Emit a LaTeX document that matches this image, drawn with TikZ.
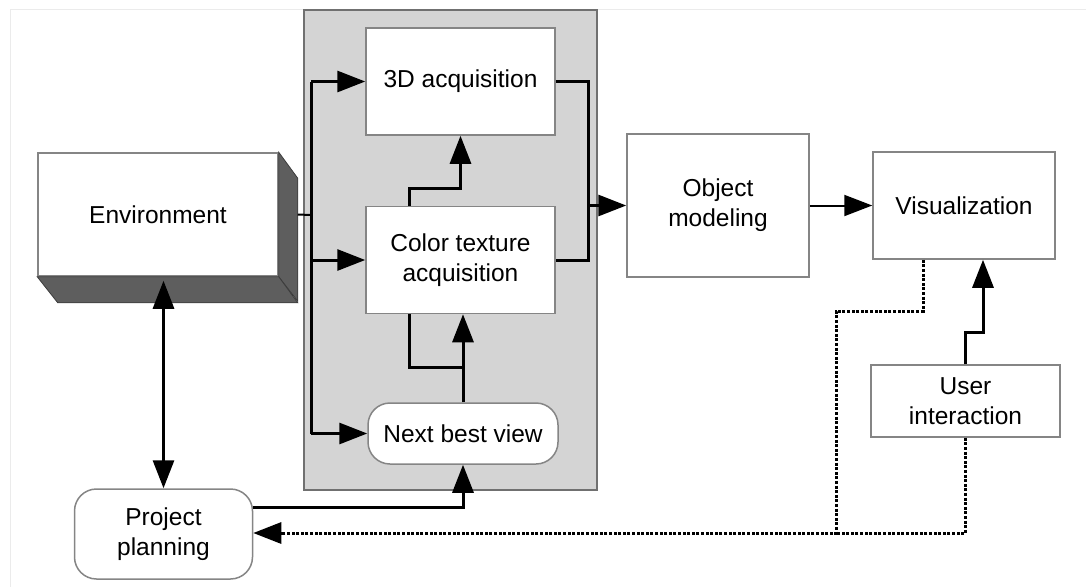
\documentclass[tikz,border=0pt]{standalone}
\usepackage{fontspec}
\setmainfont{Liberation Sans}
\usetikzlibrary{arrows.meta,calc}

\definecolor{groupfill}{HTML}{D4D4D4}
\definecolor{groupline}{HTML}{707070}
\definecolor{boxline}{HTML}{858585}
\definecolor{sidefill}{HTML}{5E5E5E}
\definecolor{sideline}{HTML}{3C3C3C}
\definecolor{frameline}{HTML}{EBEBEB}

\tikzset{
  box/.style={draw=boxline, line width=1.5pt, fill=white, inner sep=0pt,
    align=center, font=\fontsize{24.5}{30}\selectfont},
  roundbox/.style={box, rounded corners=22pt},
  ln/.style={line width=3pt, line join=miter},
  thinln/.style={line width=2pt},
  tip/.tip={Triangle[length=28pt,width=21pt]},
  arr/.style={ln, -tip},
  thinarr/.style={thinln, -tip},
  dblarr/.style={ln, tip-tip},
  dotln/.style={line width=3pt, dash pattern=on 3pt off 1.6pt},
  dotarr/.style={dotln, -tip},
}

\begin{document}
\begin{tikzpicture}[x=1pt,y=-1pt]
  \useasboundingbox (0,0) rectangle (1086,587);

  % faint page frame
  \draw[frameline, line width=1pt] (10.5,587) -- (10.5,9) -- (1086,9);

  % acquisition group
  \node[draw=groupline, line width=2pt, fill=groupfill,
        minimum width=293pt, minimum height=480pt, inner sep=0pt]
        (grp) at (450.5,250) {};

  % blocks
  \node[box, minimum width=189pt, minimum height=107pt] (a3d) at (460.5,81.5) {3D acquisition};
  \node[box, minimum width=189pt, minimum height=107pt] (ct) at (460.5,260) {Color texture\\acquisition};
  \node[roundbox, minimum width=190pt, minimum height=61pt] (nbv) at (463,433.5) {Next best view};
  \node[box, minimum width=182pt, minimum height=143pt] (om) at (718,205.5) {Object\\modeling};
  \node[box, minimum width=182pt, minimum height=107pt] (vis) at (964,205.5) {Visualization};
  \node[box, minimum width=189pt, minimum height=72pt] (ui) at (965.5,401) {User\\interaction};
  \node[roundbox, minimum width=178pt, minimum height=90pt] (pp) at (163.5,534) {Project\\planning};

  % environment block with its extruded sides
  \node[box, minimum width=240pt, minimum height=123pt]
        (env) at (158,214.5) {Environment};
  \fill[sidefill, draw=sideline, line width=0.8pt]
        (env.north east) -- ++(19,26) -- ++(0,123) -- (env.south east) -- cycle;
  \fill[sidefill, draw=sideline, line width=0.8pt]
        (env.south west) -- (env.south east) -- ++(19,26) -- ++(-240,0) -- cycle;

  % input bus feeding the acquisition steps
  \coordinate (bus) at (311,215);
  \draw[thinln] ($(env.east)+(19,0)$) -- (bus);
  \draw[ln] (bus |- a3d.west) -- (bus |- nbv.west);
  \draw[arr] (bus |- a3d.west) -- (a3d.west);
  \draw[arr] (bus |- ct.west) -- (ct.west);
  \draw[arr] (bus |- nbv.west) -- (nbv.west);

  % links inside the group
  \draw[arr] ([xshift=-51.5pt]ct.north) |- ($(a3d.south)+(0,53)$) -- (a3d.south);
  \draw[arr] (nbv.north) -- (nbv.north |- ct.south);
  \draw[ln] ([xshift=-51.5pt]ct.south) |- ($(nbv.north)+(0,-35)$);

  % output bus to modeling
  \coordinate (obus) at (588,205.5);
  \draw[ln] (a3d.east) -| (obus |- ct.east) -- (ct.east);
  \draw[arr] (obus) -- (om.west);
  \draw[thinarr] (om.east) -- (vis.west);

  % user interaction to visualization
  \coordinate (uik) at (983,332);
  \draw[arr] (ui.north) |- (uik) -- (uik |- vis.south);

  % environment and planning
  \coordinate (envb) at ($(env.south)+(5.5,4)$);
  \draw[dblarr] (envb) -- (pp.north);
  \draw[arr] ([yshift=27pt]pp.east) -| (nbv.south);

  % feedback to planning
  \coordinate (dk) at (836,311);
  \coordinate (dj) at (836,533);
  \draw[dotln] (ui.south) |- (dj);
  \draw[dotarr] ([xshift=-41pt]vis.south) |- (dk) -- (dj) -- (pp.east |- dj);
\end{tikzpicture}
\end{document}
